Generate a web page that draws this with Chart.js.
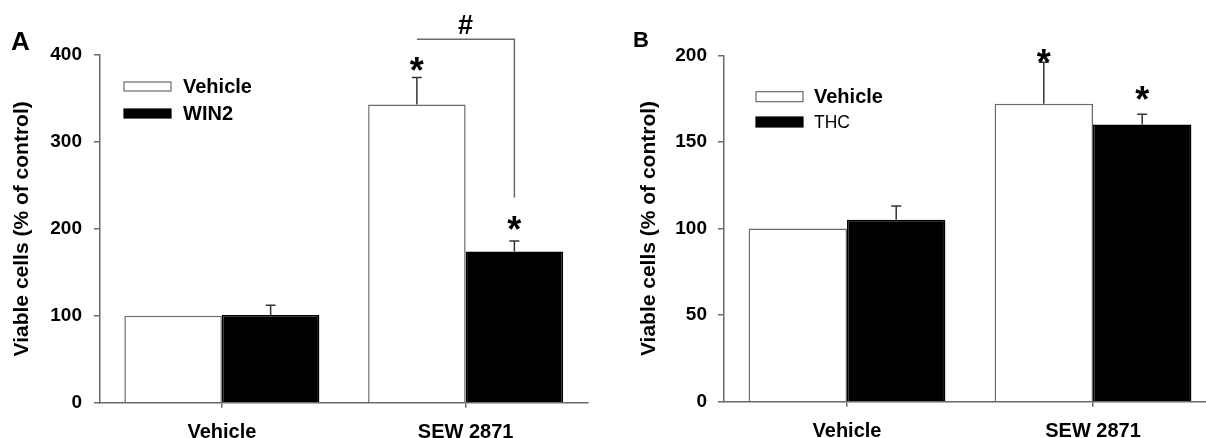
<!DOCTYPE html>
<html>
<head>
<meta charset="utf-8">
<title>Viable cells</title>
<script src="https://cdn.jsdelivr.net/npm/chart.js@4.4.1/dist/chart.umd.min.js"></script>
<style>
  html, body { margin: 0; padding: 0; background: #fff; overflow: hidden; }
  body { width: 1206px; height: 438px; position: relative; }
  canvas { position: absolute; top: 0; }
  #chartA { left: 0; }
  #chartB { left: 600px; }
</style>
</head>
<body>
<canvas id="chartA" width="600" height="438"></canvas>
<canvas id="chartB" width="620" height="438"></canvas>
<script>
// Données
const categories = ['Vehicle', 'SEW 2871'];

// Panneau A
const vehicleA = [100, 343];
const vehicleErrA = [0, 31];
const win2A = [101, 174];
const win2ErrA = [11, 12];
const vehicleStarsA = [null, 390];
const win2StarsA = [null, 207];
const hashTopA = 418;     // barre horizontale du #
const hashEndA = 236;     // bas du trait vertical
const hashLabelA = 435;   // position du #

// Panneau B
const vehicleB = [100, 172];
const vehicleErrB = [0, 24];
const thcB = [105, 160];
const thcErrB = [8, 6];
const vehicleStarsB = [null, 199.5];
const thcStarsB = [null, 178];

const yTicksA = { max: 400, step: 100 };
const yTicksB = { max: 200, step: 50 };

const FONT = '"Liberation Sans", Arial, sans-serif';
const AXIS = '#6a6a6a';

function drawCentered(ctx, text, x, y) {
    ctx.textAlign = 'center';
    ctx.textBaseline = 'alphabetic';
    const m = ctx.measureText(text);
    ctx.fillText(text, x, y + (m.actualBoundingBoxAscent - m.actualBoundingBoxDescent) / 2);
}

const annotPlugin = {
    id: 'annot',
    afterDatasetsDraw(chart, args, opts) {
        const ctx = chart.ctx;
        const y = chart.scales.y;
        ctx.save();

        // barres d'erreur + astérisques
        chart.data.datasets.forEach((ds, di) => {
            const meta = chart.getDatasetMeta(di);
            meta.data.forEach((bar, j) => {
                const err = ds.errors[j];
                if (err) {
                    const yTop = y.getPixelForValue(ds.data[j] + err);
                    const yBase = y.getPixelForValue(ds.data[j]);
                    ctx.strokeStyle = '#333';
                    ctx.lineWidth = 1.5;
                    ctx.beginPath();
                    ctx.moveTo(bar.x, yBase);
                    ctx.lineTo(bar.x, yTop);
                    ctx.moveTo(bar.x - 5, yTop);
                    ctx.lineTo(bar.x + 5, yTop);
                    ctx.stroke();
                }
                const star = ds.stars[j];
                if (star != null) {
                    ctx.fillStyle = '#000';
                    ctx.font = 'bold 36px ' + FONT;
                    drawCentered(ctx, '*', bar.x, y.getPixelForValue(star));
                }
            });
        });

        // crochet "#"
        if (opts.bracket) {
            const b = opts.bracket;
            const x1 = chart.getDatasetMeta(b.from[0]).data[b.from[1]].x;
            const x2 = chart.getDatasetMeta(b.to[0]).data[b.to[1]].x;
            const yT = y.getPixelForValue(b.top);
            ctx.strokeStyle = AXIS;
            ctx.lineWidth = 1.5;
            ctx.beginPath();
            ctx.moveTo(x1, yT);
            ctx.lineTo(x2, yT);
            ctx.lineTo(x2, y.getPixelForValue(b.end));
            ctx.stroke();
            ctx.fillStyle = '#000';
            ctx.font = 'bold 27px ' + FONT;
            drawCentered(ctx, b.label, (x1 + x2) / 2, y.getPixelForValue(b.labelAt));
        }

        // légende
        const lg = opts.legend;
        chart.data.datasets.forEach((ds, di) => {
            const row = lg.rows[di];
            ctx.fillStyle = ds.backgroundColor;
            ctx.fillRect(lg.x, row.y - lg.h / 2, lg.w, lg.h);
            ctx.strokeStyle = ds.borderColor;
            ctx.lineWidth = 1.2;
            ctx.strokeRect(lg.x, row.y - lg.h / 2, lg.w, lg.h);
            ctx.fillStyle = '#000';
            ctx.font = row.font;
            ctx.textAlign = 'left';
            ctx.textBaseline = 'middle';
            ctx.fillText(ds.label, lg.textX, row.y + 1);
        });

        // lettre du panneau
        ctx.fillStyle = '#000';
        ctx.font = opts.letter.font;
        ctx.textAlign = 'left';
        ctx.textBaseline = 'alphabetic';
        ctx.fillText(opts.letter.text, opts.letter.x, opts.letter.y);

        ctx.restore();
    }
};

function makeScales(yt, yWidth, xHeight, tickPad, titlePad) {
    return {
        x: {
            grid: { display: true, drawOnChartArea: false, drawTicks: true, tickLength: 5, offset: false, color: AXIS, lineWidth: 1.5 },
            border: { color: AXIS, width: 1.5 },
            ticks: { color: '#000', font: { family: FONT, size: 20, weight: 'bold' }, padding: 13, maxRotation: 0 },
            afterFit(s) { s.height = xHeight; }
        },
        y: {
            min: 0,
            max: yt.max,
            ticks: { stepSize: yt.step, color: '#000', font: { family: FONT, size: 19, weight: 'bold' }, padding: tickPad },
            grid: { drawOnChartArea: false, drawTicks: true, tickLength: 6, color: AXIS, lineWidth: 1.5 },
            border: { color: AXIS, width: 1.5 },
            title: {
                display: true,
                text: 'Viable cells (% of control)',
                color: '#000',
                font: { family: FONT, size: 21, weight: 'bold' },
                padding: { top: titlePad, bottom: 0 }
            },
            afterFit(s) { s.width = yWidth; }
        }
    };
}

function barSet(label, data, errors, stars, filled) {
    return {
        label: label,
        data: data,
        errors: errors,
        stars: stars,
        backgroundColor: filled ? '#000' : '#fff',
        borderColor: filled ? '#000' : AXIS,
        borderWidth: 1.5,
        barPercentage: 1.0,
        categoryPercentage: 0.8
    };
}

new Chart(document.getElementById('chartA'), {
    type: 'bar',
    data: {
        labels: categories,
        datasets: [
            barSet('Vehicle', vehicleA, vehicleErrA, vehicleStarsA, false),
            barSet('WIN2', win2A, win2ErrA, win2StarsA, true)
        ]
    },
    options: {
        responsive: false,
        animation: false,
        layout: { padding: { top: 55, right: 12.5, left: 0, bottom: 0 } },
        scales: makeScales(yTicksA, 100, 35.3, 12, 10),
        plugins: {
            legend: { display: false },
            tooltip: { enabled: false },
            annot: {
                bracket: { from: [0, 1], to: [1, 1], top: hashTopA, end: hashEndA, label: '#', labelAt: hashLabelA },
                legend: {
                    x: 124, w: 47, h: 9, textX: 183,
                    rows: [
                        { y: 86.5, font: 'bold 20px ' + FONT },
                        { y: 113.5, font: 'bold 20px ' + FONT }
                    ]
                },
                letter: { text: 'A', x: 11, y: 49.5, font: 'bold 26px ' + FONT }
            }
        }
    },
    plugins: [annotPlugin]
});

new Chart(document.getElementById('chartB'), {
    type: 'bar',
    data: {
        labels: categories,
        datasets: [
            barSet('Vehicle', vehicleB, vehicleErrB, vehicleStarsB, false),
            barSet('THC', thcB, thcErrB, thcStarsB, true)
        ]
    },
    options: {
        responsive: false,
        animation: false,
        layout: { padding: { top: 55.3, right: 4, left: 0, bottom: 0 } },
        scales: makeScales(yTicksB, 124, 36.3, 11, 37),
        plugins: {
            legend: { display: false },
            tooltip: { enabled: false },
            annot: {
                legend: {
                    x: 156, w: 47, h: 10, textX: 214,
                    rows: [
                        { y: 96.7, font: 'bold 20px ' + FONT },
                        { y: 122, font: '17.5px ' + FONT }
                    ]
                },
                letter: { text: 'B', x: 33, y: 46.5, font: 'bold 22px ' + FONT }
            }
        }
    },
    plugins: [annotPlugin]
});
</script>
</body>
</html>
